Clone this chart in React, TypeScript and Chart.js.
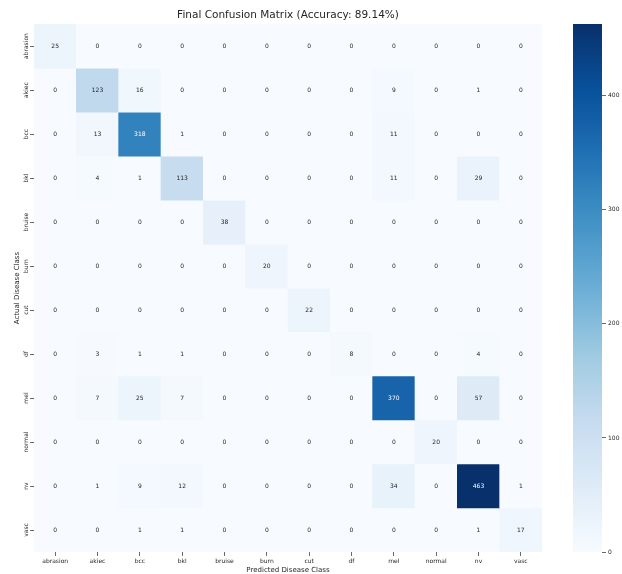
import React, { useEffect, useRef } from 'react';
import { Chart, registerables } from 'chart.js';

Chart.register(...registerables);

const classes = ['abrasion', 'akiec', 'bcc', 'bkl', 'bruise', 'burn', 'cut', 'df', 'mel', 'normal', 'nv', 'vasc'];
const rowAbrasion = [25, 0, 0, 0, 0, 0, 0, 0, 0, 0, 0, 0];
const rowAkiec = [0, 123, 16, 0, 0, 0, 0, 0, 9, 0, 1, 0];
const rowBcc = [0, 13, 318, 1, 0, 0, 0, 0, 11, 0, 0, 0];
const rowBkl = [0, 4, 1, 113, 0, 0, 0, 0, 11, 0, 29, 0];
const rowBruise = [0, 0, 0, 0, 38, 0, 0, 0, 0, 0, 0, 0];
const rowBurn = [0, 0, 0, 0, 0, 20, 0, 0, 0, 0, 0, 0];
const rowCut = [0, 0, 0, 0, 0, 0, 22, 0, 0, 0, 0, 0];
const rowDf = [0, 3, 1, 1, 0, 0, 0, 8, 0, 0, 4, 0];
const rowMel = [0, 7, 25, 7, 0, 0, 0, 0, 370, 0, 57, 0];
const rowNormal = [0, 0, 0, 0, 0, 0, 0, 0, 0, 20, 0, 0];
const rowNv = [0, 1, 9, 12, 0, 0, 0, 0, 34, 0, 463, 1];
const rowVasc = [0, 0, 1, 1, 0, 0, 0, 0, 0, 0, 1, 17];
const colorbarTicks = [0, 100, 200, 300, 400];
const chartTitle = 'Final Confusion Matrix (Accuracy: 89.14%)';
const xTitle = 'Predicted Disease Class';
const yTitle = 'Actual Disease Class';

const matrix = [rowAbrasion, rowAkiec, rowBcc, rowBkl, rowBruise, rowBurn, rowCut, rowDf, rowMel, rowNormal, rowNv, rowVasc];
const vmax = Math.max(...matrix.map((r) => Math.max(...r)));
const FONT = '"DejaVu Sans", sans-serif';
const TEXT = '#262626';

const BLUES = [
  [247, 251, 255], [222, 235, 247], [198, 219, 239], [158, 202, 225], [107, 174, 214],
  [66, 146, 198], [33, 113, 181], [8, 81, 156], [8, 48, 107],
];

function bluesRgb(t: number): number[] {
  const tt = Math.max(0, Math.min(1, t));
  const p = tt * 8;
  const i = Math.min(7, Math.floor(p));
  const f = p - i;
  const a = BLUES[i];
  const b = BLUES[i + 1];
  return [0, 1, 2].map((k) => Math.round(a[k] + (b[k] - a[k]) * f));
}
function blues(t: number): string {
  const c = bluesRgb(t);
  return `rgb(${c[0]},${c[1]},${c[2]})`;
}
function textColorFor(v: number): string {
  const c = bluesRgb(v / vmax).map((x) => {
    const s = x / 255;
    return s <= 0.03928 ? s / 12.92 : Math.pow((s + 0.055) / 1.055, 2.4);
  });
  const lum = 0.2126 * c[0] + 0.7152 * c[1] + 0.0722 * c[2];
  return lum > 0.408 ? TEXT : '#ffffff';
}

const annotatePlugin = {
  id: 'cellAnnotations',
  afterDatasetsDraw(chart: any) {
    const ctx = chart.ctx;
    ctx.save();
    ctx.font = `6px ${FONT}`;
    ctx.textAlign = 'center';
    ctx.textBaseline = 'middle';
    chart.data.datasets.forEach((_ds: any, r: number) => {
      const meta = chart.getDatasetMeta(r);
      meta.data.forEach((el: any, c: number) => {
        const v = matrix[r][c];
        const { x, y, base } = el.getProps(['x', 'y', 'base'], true);
        ctx.fillStyle = textColorFor(v);
        ctx.fillText(String(v), x, (y + base) / 2);
      });
    });
    const ys = chart.scales.y;
    ctx.fillStyle = TEXT;
    ctx.font = `6px ${FONT}`;
    classes.forEach((name, i) => {
      const py = ys.getPixelForValue(i);
      ctx.save();
      ctx.translate(ys.right - 8, py);
      ctx.rotate(-Math.PI / 2);
      ctx.fillText(name, 0, 0);
      ctx.restore();
    });
    ctx.restore();
  },
};

export default function App() {
  const mainRef = useRef<HTMLCanvasElement | null>(null);
  const cbRef = useRef<HTMLCanvasElement | null>(null);

  useEffect(() => {
    if (!mainRef.current || !cbRef.current) return;
    const datasets = matrix.map((row, r) => ({
      label: classes[r],
      data: row.map(() => [r - 0.5, r + 0.5]),
      backgroundColor: row.map((v) => blues(v / vmax)),
      borderWidth: 0,
      barPercentage: 1,
      categoryPercentage: 1,
      grouped: false,
    }));
    const main = new Chart(mainRef.current, {
      type: 'bar',
      data: { labels: classes, datasets: datasets as any },
      options: {
        animation: false,
        responsive: false,
        maintainAspectRatio: false,
        layout: { padding: { left: 0, right: 80, top: 0, bottom: 0 } },
        plugins: {
          legend: { display: false },
          tooltip: { enabled: false },
          title: {
            display: true,
            text: chartTitle,
            fullSize: false,
            color: TEXT,
            font: { family: FONT, size: 10.5, weight: 'normal' },
            padding: { top: 9, bottom: 2.5 },
          },
        },
        scales: {
          x: {
            type: 'category',
            grid: { drawOnChartArea: false, drawTicks: true, tickLength: 4, offset: false, color: '#444', lineWidth: 0.8 },
            border: { display: false },
            ticks: { font: { family: FONT, size: 6 }, color: TEXT, padding: 2, maxRotation: 0, minRotation: 0, autoSkip: false },
            title: { display: true, text: xTitle, color: TEXT, font: { family: FONT, size: 7 }, padding: { top: 0, bottom: 0 } },
            afterFit: (s: any) => { s.height = 22; },
          },
          y: {
            type: 'linear',
            min: -0.5,
            max: 11.5,
            reverse: true,
            afterBuildTicks: (s: any) => { s.ticks = classes.map((_c, i) => ({ value: i })); },
            ticks: { display: false },
            grid: { drawOnChartArea: false, drawTicks: true, tickLength: 4, color: '#444', lineWidth: 0.8 },
            border: { display: false },
            title: { display: true, text: yTitle, color: TEXT, font: { family: FONT, size: 7 }, padding: { top: 13, bottom: 0 } },
            afterFit: (s: any) => { s.width = 34; },
          },
        },
      } as any,
      plugins: [annotatePlugin],
    });

    const cb = new Chart(cbRef.current, {
      type: 'bar',
      data: {
        labels: [''],
        datasets: [{
          data: [[0, vmax]],
          backgroundColor: (context: any) => {
            const { chart } = context;
            const area = chart.chartArea;
            if (!area) return blues(0.5);
            const g = chart.ctx.createLinearGradient(0, area.bottom, 0, area.top);
            BLUES.forEach((c, i) => g.addColorStop(i / 8, `rgb(${c[0]},${c[1]},${c[2]})`));
            return g;
          },
          borderWidth: 0,
          barPercentage: 1,
          categoryPercentage: 1,
        }] as any,
      },
      options: {
        animation: false,
        responsive: false,
        maintainAspectRatio: false,
        layout: { padding: { left: 33, right: 0, top: 24, bottom: 22 } },
        plugins: { legend: { display: false }, tooltip: { enabled: false } },
        scales: {
          x: { display: false },
          y: {
            position: 'right',
            min: 0,
            max: vmax,
            afterBuildTicks: (s: any) => { s.ticks = colorbarTicks.map((v) => ({ value: v })); },
            grid: { drawOnChartArea: false, drawTicks: true, tickLength: 4, color: '#444', lineWidth: 0.8 },
            border: { display: false },
            ticks: { font: { family: FONT, size: 6 }, color: TEXT, padding: 2 },
            afterFit: (s: any) => { s.width = 20; },
          },
        },
      } as any,
    });

    return () => {
      main.destroy();
      cb.destroy();
    };
  }, []);

  return (
    <div style={{ position: 'fixed', left: 0, top: 0, width: 622, height: 574, background: '#ffffff', overflow: 'hidden' }}>
      <canvas ref={mainRef} width={622} height={574} style={{ position: 'absolute', left: 0, top: 0, width: 622, height: 574 }} />
      <canvas ref={cbRef} width={82} height={574} style={{ position: 'absolute', left: 540, top: 0, width: 82, height: 574 }} />
    </div>
  );
}
